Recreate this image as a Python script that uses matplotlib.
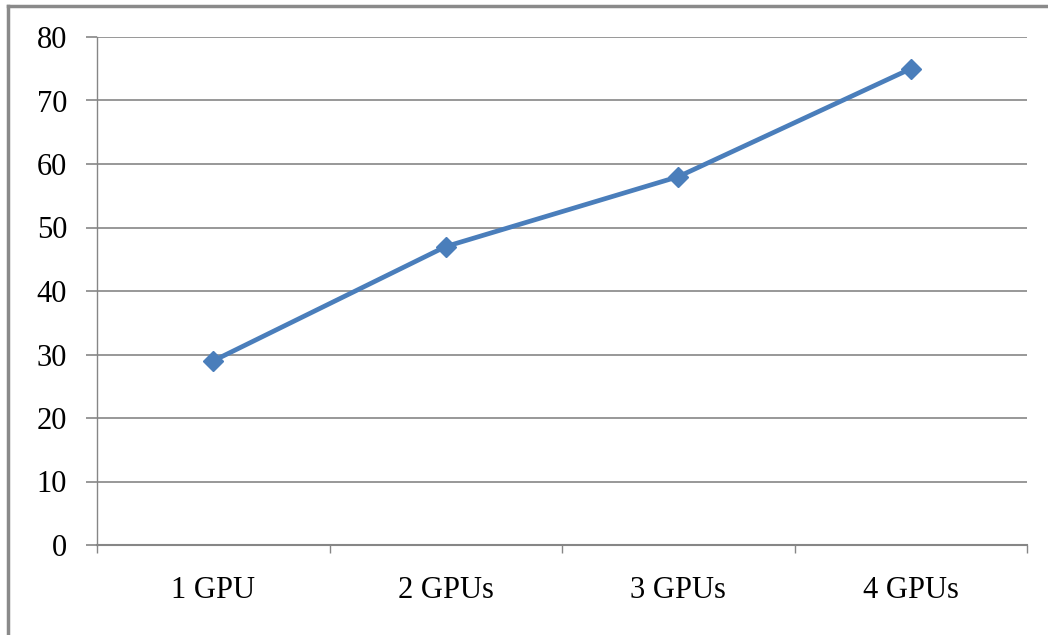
import matplotlib.pyplot as plt
from matplotlib.lines import Line2D

categories = ['1 GPU', '2 GPUs', '3 GPUs', '4 GPUs']
values = [29, 47, 58, 75]
yticks = [0, 10, 20, 30, 40, 50, 60, 70, 80]

plt.rcParams['font.family'] = ['Liberation Serif', 'DejaVu Serif']

W, H = 1048, 635
fig = plt.figure(figsize=(W / 100, H / 100), dpi=100)
ax = fig.add_axes([97 / W, 1 - 545 / H, (1027 - 97) / W, (545 - 37) / H])

grid = '#868686'
x = [i + 0.5 for i in range(len(categories))]
ax.plot(x, values, color='#4a7ebb', linewidth=3.4, marker='D',
        markersize=10, markerfacecolor='#4a7ebb', markeredgecolor='#4a7ebb',
        solid_capstyle='round', zorder=3)

ax.set_xlim(0, len(categories))
ax.set_ylim(0, 80)
ax.set_yticks(yticks)
ax.set_yticklabels([str(v) for v in yticks], fontsize=22)
for v in yticks[1:]:
    ax.axhline(v, color=grid, linewidth=1.2, zorder=1)

# category boundaries get the tick marks, labels sit in the middle
ax.set_xticks(range(len(categories) + 1))
ax.set_xticklabels([])
ax.set_xticks(x, minor=True)
ax.set_xticklabels(categories, minor=True, fontsize=22)
ax.tick_params(axis='x', which='major', length=6, width=1.0, color=grid, direction='out')
ax.tick_params(axis='x', which='minor', length=0, pad=22)
ax.tick_params(axis='y', length=8, width=1.2, color=grid, pad=13.5)

for s in ['top', 'right']:
    ax.spines[s].set_visible(False)
ax.spines['left'].set_color(grid)
ax.spines['left'].set_linewidth(1.0)
ax.spines['bottom'].set_color(grid)
ax.spines['bottom'].set_linewidth(1.5)

# outer chart frame (top and left edges visible)
fig.add_artist(Line2D([8 / W, 1], [1 - 6 / H, 1 - 6 / H], color='#8a8a8a', linewidth=2.5))
fig.add_artist(Line2D([8 / W, 8 / W], [0, 1 - 6 / H], color='#8a8a8a', linewidth=2.5))

fig.savefig('out.png', dpi=100)
